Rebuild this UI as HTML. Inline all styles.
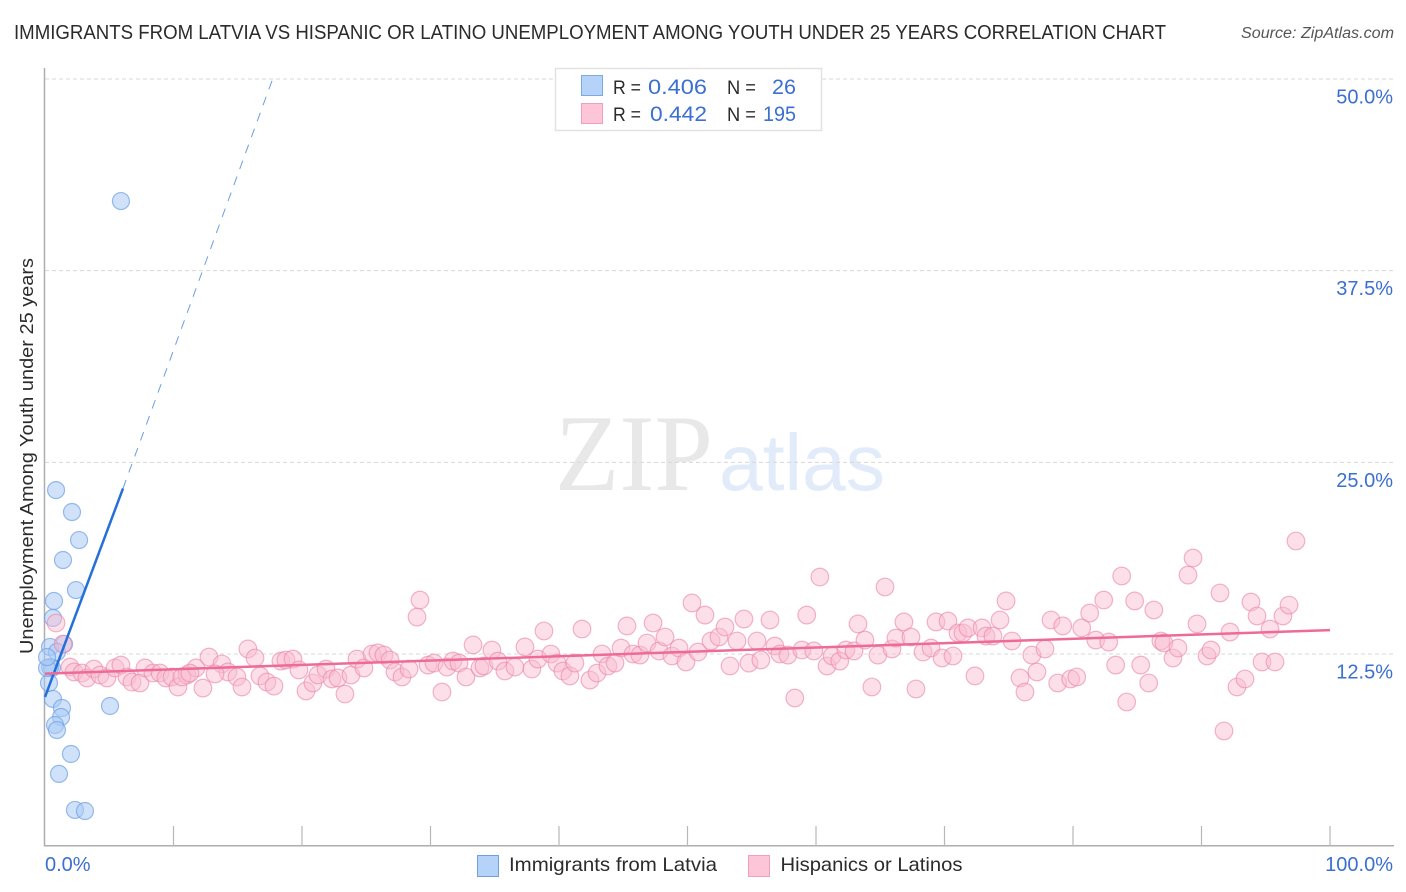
<!DOCTYPE html>
<html lang="en">
<head>
<meta charset="utf-8">
<title>Immigrants from Latvia vs Hispanic or Latino Unemployment Among Youth Correlation Chart</title>
<style>
  html, body { margin: 0; padding: 0; background: #fff; width: 1406px; height: 892px; overflow: hidden; }
  svg { display: block; font-family: "Liberation Sans", sans-serif; }
  .blue { fill: #3b6fd1; }
  .dark { fill: #2b2b2b; }
</style>
</head>
<body>
<svg id="chart" xmlns="http://www.w3.org/2000/svg" width="1406" height="892" viewBox="0 0 1406 892">
  <g id="watermark">
    <text x="555" y="490" font-family="'Liberation Serif', serif" font-size="109" fill="#e8e8e8" textLength="158" lengthAdjust="spacingAndGlyphs">ZIP</text>
    <text x="719" y="490" font-size="80" fill="#e1ebf9" textLength="166" lengthAdjust="spacingAndGlyphs">atlas</text>
  </g>
  <g id="grid"></g>
  <g id="axes"></g>
  <g id="points-latvia"></g>
  <g id="points-hispanic"></g>
  <g id="trends"></g>

  <text x="14" y="39" font-size="20" fill="#2b2b2b" textLength="1152" lengthAdjust="spacingAndGlyphs">IMMIGRANTS FROM LATVIA VS HISPANIC OR LATINO UNEMPLOYMENT AMONG YOUTH UNDER 25 YEARS CORRELATION CHART</text>
  <text x="1394" y="38" font-size="15.5" font-style="italic" fill="#555" text-anchor="end" textLength="153" lengthAdjust="spacingAndGlyphs">Source: ZipAtlas.com</text>
  <text transform="translate(33,456) rotate(-90)" font-size="18.5" fill="#2b2b2b" text-anchor="middle" textLength="396" lengthAdjust="spacingAndGlyphs">Unemployment Among Youth under 25 years</text>

  <g>
    <rect x="555.5" y="68.5" width="266" height="62" fill="#fff" fill-opacity="0.92" stroke="#e2e2e2" stroke-width="1.5"/>
    <rect x="581.5" y="75.5" width="21" height="20" fill="#b5d2f8" stroke="#7ba9e4"/>
    <rect x="581.5" y="103.5" width="21" height="20" fill="#fcc6d8" stroke="#f0a0bc"/>
    <text x="613" y="94" font-size="19.5" class="dark" textLength="28" lengthAdjust="spacingAndGlyphs">R =</text>
    <text x="648" y="94" font-size="21.5" class="blue" textLength="59" lengthAdjust="spacingAndGlyphs">0.406</text>
    <text x="727" y="94" font-size="19.5" class="dark" textLength="29" lengthAdjust="spacingAndGlyphs">N =</text>
    <text x="772" y="94" font-size="21.5" class="blue" textLength="24" lengthAdjust="spacingAndGlyphs">26</text>
    <text x="613" y="121" font-size="19.5" class="dark" textLength="28" lengthAdjust="spacingAndGlyphs">R =</text>
    <text x="650" y="121" font-size="21.5" class="blue" textLength="57" lengthAdjust="spacingAndGlyphs">0.442</text>
    <text x="727" y="121" font-size="19.5" class="dark" textLength="29" lengthAdjust="spacingAndGlyphs">N =</text>
    <text x="763" y="121" font-size="21.5" class="blue" textLength="33" lengthAdjust="spacingAndGlyphs">195</text>
  </g>

  <g>
    <rect x="477.5" y="855.5" width="21" height="21" fill="#b5d2f8" stroke="#6f9fdc"/>
    <text x="509" y="871" font-size="19.5" fill="#2b2b2b" textLength="208" lengthAdjust="spacingAndGlyphs">Immigrants from Latvia</text>
    <rect x="748.5" y="855.5" width="21" height="21" fill="#fcc6d8" stroke="#f0a0bc"/>
    <text x="780.5" y="871" font-size="19.5" fill="#2b2b2b" textLength="182" lengthAdjust="spacingAndGlyphs">Hispanics or Latinos</text>
  </g>
</svg>

<script>
const yTickValues = [12.5, 25, 37.5, 50];
const yTickLabels = ["12.5%", "25.0%", "37.5%", "50.0%"];
const xTickValues = [0, 10, 20, 30, 40, 50, 60, 70, 80, 90, 100];
const xEndValues = [0, 100];
const xEndLabels = ["0.0%", "100.0%"];

const latviaX = [5.91,0.86,2.10,2.65,1.40,2.41,0.70,0.62,1.48,0.39,0.93,0.54,0.39,0.31,0.62,5.06,1.32,1.25,0.78,0.93,2.02,1.09,2.33,3.11,0.16,0.16];
const latviaY = [42.04,23.19,21.76,19.93,18.63,16.67,15.96,14.85,13.15,12.96,12.63,11.59,11.65,10.61,9.57,9.11,8.98,8.39,7.87,7.54,5.98,4.68,2.33,2.26,11.59,12.30];

const hispanicX = [0.86,1.40,1.95,2.26,2.88,3.27,3.81,4.28,4.82,5.45,5.91,6.38,6.77,7.39,7.78,8.40,8.95,9.41,9.88,10.35,11.05,11.75,
  10.66,11.28,12.76,13.77,14.24,13.23,14.94,12.29,15.33,15.79,16.34,16.73,17.27,17.82,18.36,18.75,19.30,19.76,20.31,20.85,21.24,21.87,22.33,22.80,23.34,23.81,24.28,24.82,25.45,25.91,26.38,26.85,27.24,27.78,28.33,29.18,28.95,29.81,30.27,30.89,31.28,31.75,32.22,32.76,33.31,33.85,34.16,34.78,35.25,35.79,36.57,37.35,37.89,38.36,38.83,39.37,39.84,40.30,40.85,41.24,41.79,
  42.41,42.96,43.35,43.81,44.36,44.83,45.29,45.76,46.30,46.85,47.32,47.79,48.25,48.79,49.34,49.88,50.35,50.82,51.36,51.83,52.45,52.92,53.31,53.85,54.39,54.78,55.41,55.71,56.42,56.80,57.19,57.81,58.35,58.90,59.28,59.83,60.30,60.86,61.25,61.85,62.33,62.96,63.27,63.81,64.35,64.82,65.37,65.91,66.22,66.84,67.39,67.78,68.33,68.95,69.34,69.81,70.27,70.66,71.05,
  71.44,71.83,72.37,72.92,73.23,73.77,74.32,74.79,75.25,75.88,76.26,76.80,77.19,77.82,78.29,78.81,79.20,79.82,80.29,80.68,81.30,81.77,82.39,82.78,83.32,83.79,84.18,84.80,85.27,85.89,86.29,86.84,87.07,87.78,88.17,88.95,89.34,89.65,90.43,90.74,91.44,91.75,92.22,92.76,93.38,93.85,94.32,94.71,95.33,95.72,96.34,96.81,97.35];
const hispanicY = [14.52,13.15,11.65,11.33,11.26,10.94,11.52,11.13,10.94,11.59,11.78,11.00,10.67,10.61,11.59,11.26,11.26,10.94,11.00,10.35,11.13,11.59,
  11.00,11.26,12.30,11.85,11.33,11.20,11.00,10.28,10.35,12.83,12.24,11.07,10.67,10.41,12.04,12.11,12.17,11.46,10.09,10.61,11.13,11.52,10.87,10.94,9.89,11.13,12.17,11.59,12.50,12.57,12.43,12.11,11.33,11.00,11.52,16.02,14.91,11.78,11.91,10.02,11.65,12.04,11.91,11.00,13.09,11.59,11.72,12.76,12.04,11.39,11.65,12.96,11.52,12.17,14.00,12.50,11.91,11.39,11.07,11.91,14.13,
  10.80,11.26,12.50,11.72,11.91,12.89,14.33,12.50,12.43,13.22,14.52,12.70,13.61,12.37,12.89,11.98,15.83,12.63,15.04,13.35,13.61,14.26,11.72,13.35,14.78,11.91,13.35,12.11,14.72,13.02,12.50,12.43,9.63,12.76,15.04,12.70,17.52,11.72,12.37,12.04,12.76,12.70,14.46,13.41,10.35,12.43,16.87,12.83,13.54,14.59,13.61,10.22,12.63,12.89,14.59,12.24,14.65,12.37,13.87,
  13.87,14.20,11.07,14.20,13.67,13.67,14.72,15.96,13.35,10.94,10.02,12.43,11.33,12.83,14.72,10.61,14.33,10.87,11.00,14.20,15.17,13.41,16.02,13.28,11.78,17.59,9.37,15.96,11.78,10.61,15.37,13.35,13.22,12.24,12.89,17.65,18.76,14.46,12.37,12.76,16.48,7.48,13.93,10.35,10.87,15.89,14.98,11.98,14.13,11.98,14.98,15.69,19.87];

const latviaTrendSolidX = [0, 6.07];
const latviaTrendSolidY = [9.7, 23.3];
const latviaTrendDashX = [6.07, 17.67];
const latviaTrendDashY = [23.3, 49.9];
const hispanicTrendX = [0, 100];
const hispanicTrendY = [11.22, 14.06];

const svgNS = "http://www.w3.org/2000/svg";
function xScale(v) { return 45 + v * 12.85; }
function yScale(v) { return 845.67 - v * 15.333; }

function make(tag, attrs, parent) {
  const el = document.createElementNS(svgNS, tag);
  for (const k in attrs) el.setAttribute(k, attrs[k]);
  parent.appendChild(el);
  return el;
}

const grid = document.getElementById("grid");
const axes = document.getElementById("axes");
const ptsL = document.getElementById("points-latvia");
const ptsH = document.getElementById("points-hispanic");
const trends = document.getElementById("trends");

yTickValues.forEach(function (v, i) {
  const line = make("line", { x1: 45, x2: 1394, y1: yScale(v), y2: yScale(v), stroke: "#d8d8d8", "stroke-width": 1, "stroke-dasharray": "4 3" }, grid);
  
  
  const label = make("text", { x: 1393, y: yScale(v) + 24.5, "text-anchor": "end", "font-size": 20, fill: "#3b6fd1" }, axes);
  label.textContent = yTickLabels[i];
  
  
});

const yAxisLine = make("line", { x1: 44.5, x2: 44.5, y1: 68, y2: 846, stroke: "#aeaeae", "stroke-width": 1.5 }, axes);


const xAxisLine = make("line", { x1: 44, x2: 1394, y1: 845.7, y2: 845.7, stroke: "#aeaeae", "stroke-width": 1.5 }, axes);



xTickValues.forEach(function (v) {
  if (v === 0) return;
  const tick = make("line", { x1: xScale(v), x2: xScale(v), y1: 826, y2: 846, stroke: "#b8b8b8", "stroke-width": 1.2 }, axes);
  
  
});

xEndValues.forEach(function (v, i) {
  const label = make("text", { x: v === 0 ? xScale(v) : 1393, y: 871, "text-anchor": v === 0 ? "start" : "end", "font-size": 20, fill: "#3b6fd1" }, axes);
  label.textContent = xEndLabels[i];
  
  
});

latviaX.forEach(function (v, i) {
  const c = make("circle", { cx: xScale(v), cy: yScale(latviaY[i]), r: 8.5, fill: "#a9cbf5", "fill-opacity": 0.55, stroke: "#6f9fe2", "stroke-opacity": 0.7, "stroke-width": 1.2 }, ptsL);
  
  
});

hispanicX.forEach(function (v, i) {
  const c = make("circle", { cx: xScale(v), cy: yScale(hispanicY[i]), r: 8.8, fill: "#f9bcd0", "fill-opacity": 0.48, stroke: "#ec86a8", "stroke-opacity": 0.62, "stroke-width": 1.2 }, ptsH);
  
  
});

const dash = make("line", { x1: xScale(latviaTrendDashX[0]), y1: yScale(latviaTrendDashY[0]), x2: xScale(latviaTrendDashX[1]), y2: yScale(latviaTrendDashY[1]), stroke: "#2e74d8", "stroke-opacity": 0.7, "stroke-width": 1, "stroke-dasharray": "9 8" }, trends);


const solid = make("line", { x1: xScale(latviaTrendSolidX[0]), y1: yScale(latviaTrendSolidY[0]), x2: xScale(latviaTrendSolidX[1]), y2: yScale(latviaTrendSolidY[1]), stroke: "#2470d8", "stroke-width": 2.5 }, trends);


const pinkLine = make("line", { x1: xScale(hispanicTrendX[0]), y1: yScale(hispanicTrendY[0]), x2: xScale(hispanicTrendX[1]), y2: yScale(hispanicTrendY[1]), stroke: "#ee6a97", "stroke-width": 2.5 }, trends);


</script>
</body>
</html>
